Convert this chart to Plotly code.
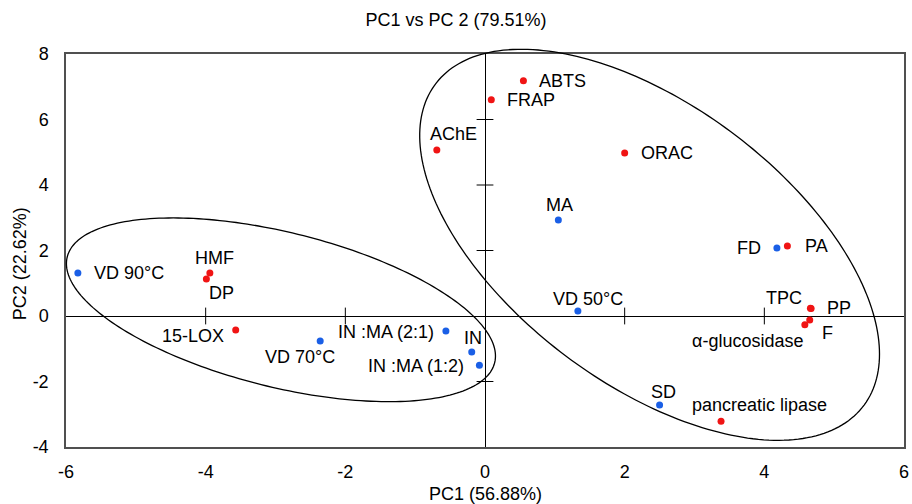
import numpy as np
import plotly.graph_objects as go

# ---------------- data ----------------
sample_names = ["VD 90°C", "MA", "FD", "VD 50°C", "VD 70°C",
                "IN :MA (2:1)", "IN", "IN :MA (1:2)", "SD"]
sample_pc1 = [-5.83, 1.05, 4.18, 1.33, -2.36, -0.56, -0.19, -0.08, 2.50]
sample_pc2 = [1.31, 2.93, 2.08, 0.15, -0.76, -0.46, -1.10, -1.50, -2.72]

var_names = ["ABTS", "FRAP", "AChE", "ORAC", "PA", "HMF", "DP", "15-LOX",
             "TPC", "PP", "F", "α-glucosidase", "pancreatic lipase"]
var_pc1 = [0.55, 0.09, -0.69, 2.00, 4.33, -3.94, -3.99, -3.57,
           4.66, 4.67, 4.65, 4.58, 3.38]
var_pc2 = [7.18, 6.60, 5.07, 4.98, 2.14, 1.31, 1.13, -0.43,
           0.24, 0.23, -0.12, -0.27, -3.21]

x_ticks = [-6, -4, -2, 0, 2, 4, 6]
y_ticks = [-4, -2, 0, 2, 4, 6, 8]
x_ticktext = ["-6", "-4", "-2", "0", "2", "4", "6"]
y_ticktext = ["-4", "-2", "0", "2", "4", "6", "8"]

# ---------------- layout constants ----------------
W, H = 912, 504
ML, MR, MT, MB = 66, 3, 54, 57
XR = [-6, 6]
YR = [-4, 8]
px_x = (W - ML - MR) / (XR[1] - XR[0])
px_y = (H - MT - MB) / (YR[1] - YR[0])

FONT = "Liberation Sans, Arial, sans-serif"
BLUE = "#1a5fe6"
RED = "#f01414"

# label placement: (xanchor, xshift, yshift) in px
label_pos = {
    "VD 90°C": ("left", 14, 0), "MA": ("center", 1, 15), "FD": ("right", -14, 0),
    "VD 50°C": ("center", 10, 12), "VD 70°C": ("center", -20, -16),
    "IN :MA (2:1)": ("right", -10, -1), "IN": ("center", 1, 14),
    "IN :MA (1:2)": ("right", -13, -1), "SD": ("center", 4, 13),
    "ABTS": ("left", 14, 0), "FRAP": ("left", 14, 0), "AChE": ("center", 17, 16),
    "ORAC": ("left", 14, 0), "PA": ("left", 16, 0), "HMF": ("center", 5, 15),
    "DP": ("center", 15, -14), "15-LOX": ("right", -10, -6),
    "TPC": ("center", -26, 10), "PP": ("left", 14, 0), "F": ("center", 18, -13),
    "α-glucosidase": ("right", 0, -16), "pancreatic lipase": ("center", 38, 16),
}

fig = go.Figure()

fig.add_trace(go.Scatter(x=sample_pc1, y=sample_pc2, mode="markers",
                         marker=dict(color=BLUE, size=7), hoverinfo="text",
                         text=sample_names, showlegend=False, cliponaxis=False))
fig.add_trace(go.Scatter(x=var_pc1, y=var_pc2, mode="markers",
                         marker=dict(color=RED, size=7), hoverinfo="text",
                         text=var_names, showlegend=False, cliponaxis=False))

# cross ticks on the zero axes
inner_x = [v for v in x_ticks if v not in (0, XR[0], XR[1])]
inner_y = [v for v in y_ticks if v not in (0, YR[0], YR[1])]
fig.add_trace(go.Scatter(x=inner_x, y=[0] * len(inner_x), mode="markers",
                         marker=dict(symbol="line-ns", size=12,
                                     line=dict(color="black", width=1)),
                         hoverinfo="skip", showlegend=False))
fig.add_trace(go.Scatter(x=[0] * len(inner_y), y=inner_y, mode="markers",
                         marker=dict(symbol="line-ew", size=12,
                                     line=dict(color="black", width=1)),
                         hoverinfo="skip", showlegend=False))

# labels
annotations = []
for names, xs, ys in ((sample_names, sample_pc1, sample_pc2),
                      (var_names, var_pc1, var_pc2)):
    for n, xv, yv in zip(names, xs, ys):
        xa, dx, dy = label_pos[n]
        annotations.append(dict(x=xv, y=yv, xref="x", yref="y", text=n,
                                showarrow=False, xanchor=xa, yanchor="middle",
                                xshift=dx, yshift=dy,
                                font=dict(family=FONT, size=18, color="black")))


# ellipses: center in data units, semi-axes in px, tilt in degrees (screen, clockwise)
def ellipse_path(cx, cy, a_px, b_px, tilt_deg, n=240):
    t = np.linspace(0, 2 * np.pi, n)
    th = np.deg2rad(tilt_deg)
    u, v = a_px * np.cos(t), b_px * np.sin(t)
    dxp = u * np.cos(th) - v * np.sin(th)
    dyp = u * np.sin(th) + v * np.cos(th)
    xd = cx + dxp / px_x
    yd = cy - dyp / px_y
    xp = (xd - XR[0]) / (XR[1] - XR[0])
    yp = (yd - YR[0]) / (YR[1] - YR[0])
    return "M " + " L ".join(f"{a:.5f},{b:.5f}" for a, b in zip(xp, yp)) + " Z"


shapes = [
    dict(type="path", xref="paper", yref="paper",
         path=ellipse_path(-2.922, 0.189, 221.4, 77.4, 13.8),
         line=dict(color="black", width=1.3)),
    dict(type="path", xref="paper", yref="paper",
         path=ellipse_path(2.357, 2.174, 268.8, 139.5, 36.6),
         line=dict(color="black", width=1.3)),
]

# axis titles
annotations.append(dict(text="PC1 (56.88%)", xref="paper", yref="paper",
                        x=0.5, y=-(494 - (H - MB)) / (H - MT - MB),
                        showarrow=False, xanchor="center", yanchor="middle",
                        font=dict(family=FONT, size=18, color="black")))
annotations.append(dict(text="PC2 (22.62%)", xref="paper", yref="paper",
                        x=-(ML - 20) / (W - ML - MR),
                        y=((H - MB) - 264) / (H - MT - MB),
                        showarrow=False, xanchor="center", yanchor="middle",
                        textangle=-90,
                        font=dict(family=FONT, size=18, color="black")))

axis_common = dict(showgrid=False, zeroline=True, zerolinecolor="black",
                   zerolinewidth=1, showline=True, mirror=True,
                   linecolor="#505050", linewidth=1.5,
                   ticks="outside", tickcolor="rgba(0,0,0,0)",
                   ticklabeloverflow="allow",
                   tickfont=dict(family=FONT, size=18, color="black"))

fig.update_layout(
    width=W, height=H,
    margin=dict(l=ML, r=MR, t=MT, b=MB),
    paper_bgcolor="white", plot_bgcolor="white",
    title=dict(text="PC1 vs PC 2 (79.51%)", x=0.5, xref="container",
               xanchor="center", y=1 - 20 / H, yanchor="middle",
               font=dict(family=FONT, size=18, color="black")),
    xaxis=dict(range=XR, tickmode="array", tickvals=x_ticks, ticktext=x_ticktext,
               ticklen=8, **axis_common),
    yaxis=dict(range=YR, tickmode="array", tickvals=y_ticks, ticktext=y_ticktext,
               ticklen=12, **axis_common),
    shapes=shapes, annotations=annotations, showlegend=False,
)

fig.write_html("out.html")
